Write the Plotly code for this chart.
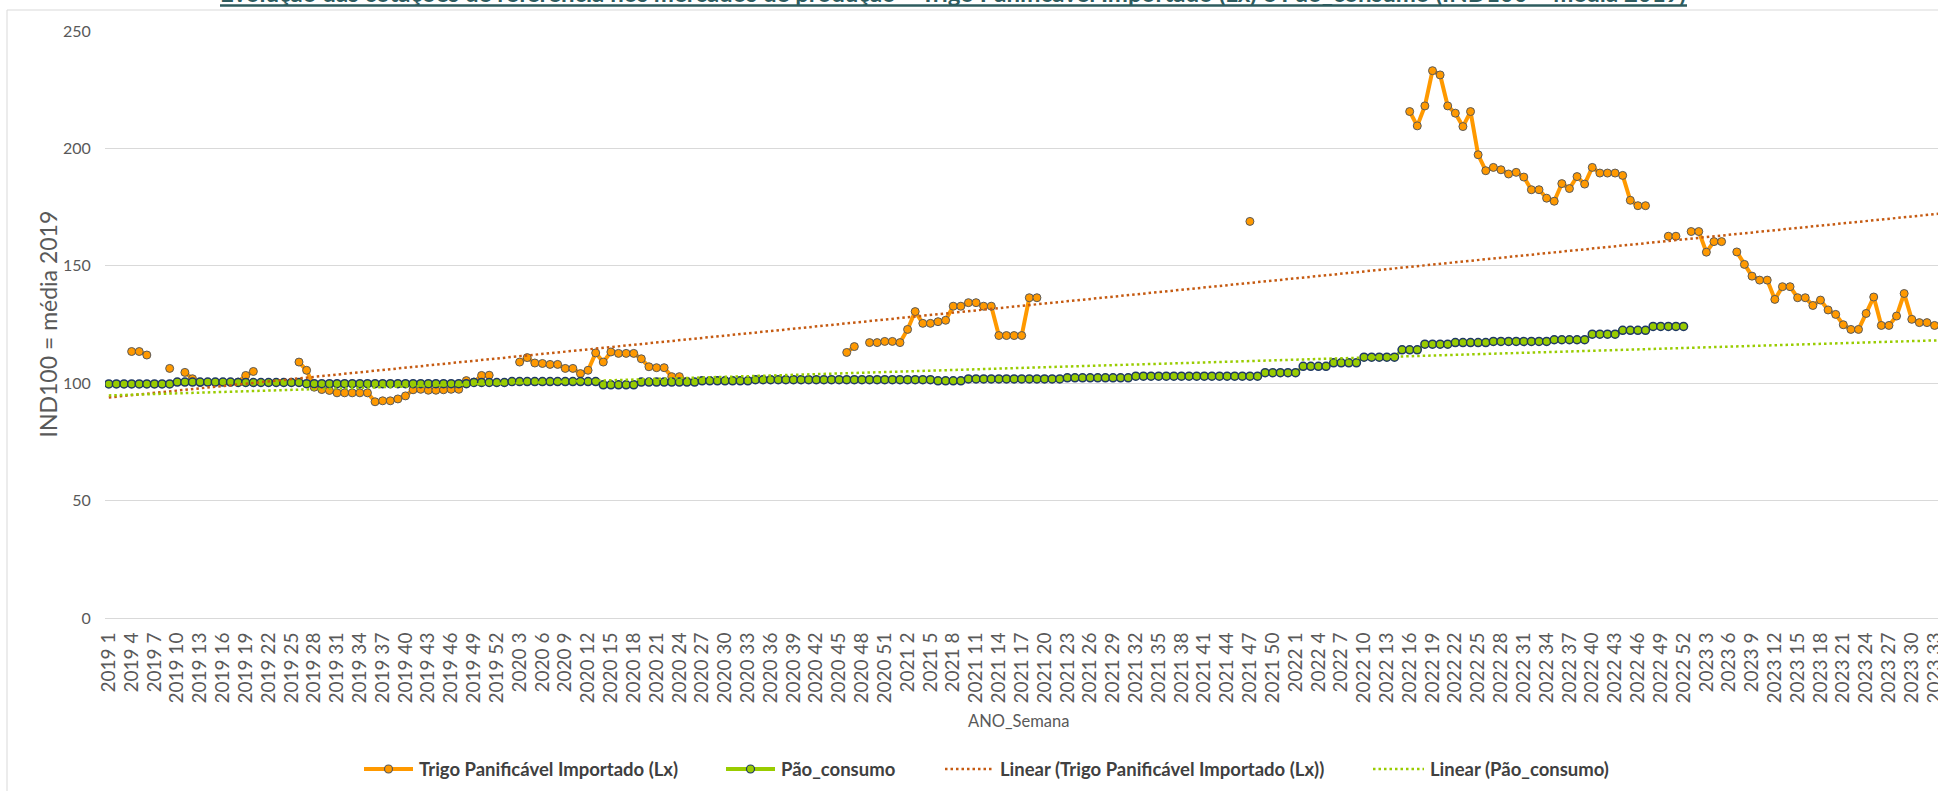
import numpy as np
import plotly.graph_objects as go

# ---------------- data ----------------
years = [2019, 2020, 2021, 2022, 2023]
weeks_in_year = [52, 52, 52, 52, 34]
categories = [f"{y} {w}" for y, n in zip(years, weeks_in_year) for w in range(1, n + 1)]

trigo_2019 = [None, None, None, 113.5, 113.5, 112.0, None, None, 106.3, None,
              104.6, 101.9, 100.3, None, None, None, None, 100.5, 103.3, 105.0,
              None, None, None, None, None, 109.0, 105.5, 98.3, 97.3, 96.9,
              95.9, 95.9, 95.9, 95.9, 95.9, 92.1, 92.5, 92.5, 93.3, 94.6,
              97.2, 97.4, 97.0, 97.0, 97.2, 97.4, 97.4, 101.1, 100.5, 103.3,
              103.4, None]
trigo_2020 = [None, None, 109.0, 110.9, 108.6, 108.4, 108.0, 108.0, 106.3, 106.3,
              104.1, 105.5, 112.9, 109.0, 113.3, 112.7, 112.7, 112.7, 110.4, 107.0,
              106.6, 106.6, 102.8, 102.8, 100.8, None, None, None, None, None,
              None, None, None, None, None, None, None, None, None, None,
              None, None, None, None, None, 113.1, 115.6, None, 117.3, 117.3,
              117.8, 117.8]
trigo_2021 = [117.3, 122.9, 130.5, 125.5, 125.5, 126.2, 126.8, 132.8, 132.8, 134.3,
              134.3, 132.8, 132.8, 120.3, 120.3, 120.3, 120.3, 136.4, 136.4, None,
              None, None, None, None, None, None, None, None, None, None,
              None, None, None, None, None, None, None, None, None, None,
              None, None, None, None, None, None, 168.9, None, None, None,
              None, None]
trigo_2022 = [None, None, None, None, None, None, None, None, None, None,
              None, None, None, None, None, 215.7, 209.6, 218.1, 233.1, 231.3,
              218.1, 215.0, 209.3, 215.7, 197.3, 190.5, 191.9, 190.9, 189.1, 189.8,
              187.8, 182.4, 182.4, 178.8, 177.5, 185.0, 182.9, 188.0, 184.8, 191.9,
              189.5, 189.5, 189.5, 188.5, 177.9, 175.6, 175.6, None, None, 162.6,
              162.6, None]
trigo_2023 = [164.6, 164.6, 155.8, 160.3, 160.3, None, 155.9, 150.6, 145.6, 143.9,
              143.9, 135.7, 141.1, 141.1, 136.4, 136.4, 133.1, 135.4, 131.2, 129.3,
              124.9, 122.9, 122.9, 129.7, 136.7, 124.6, 124.6, 128.6, 138.2, 127.2,
              125.8, 125.8, 124.6, None]

pao_2019 = [99.7, 99.7, 99.7, 99.7, 99.7, 99.7, 99.7, 99.7, 99.7, 100.5,
            100.5, 100.5, 100.5, 100.5, 100.5, 100.5, 100.5, 100.3, 100.3, 100.3,
            100.3, 100.3, 100.3, 100.3, 100.3, 100.3, 99.8, 99.8, 99.8, 99.8,
            99.8, 99.8, 99.8, 99.8, 99.8, 99.8, 99.8, 99.8, 99.8, 99.8,
            99.8, 99.8, 99.8, 99.8, 99.8, 99.8, 99.8, 99.8, 100.3, 100.3,
            100.3, 100.3]
pao_2020 = [100.3, 100.7, 100.7, 100.7, 100.7, 100.7, 100.7, 100.7, 100.7, 100.7,
            100.7, 100.7, 100.7, 99.3, 99.3, 99.3, 99.3, 99.3, 100.5, 100.5,
            100.5, 100.5, 100.5, 100.5, 100.5, 100.5, 101.0, 101.0, 101.0, 101.0,
            101.0, 101.0, 101.0, 101.5, 101.5, 101.5, 101.5, 101.5, 101.5, 101.5,
            101.5, 101.5, 101.5, 101.5, 101.5, 101.5, 101.5, 101.5, 101.5, 101.5,
            101.5, 101.5]
pao_2021 = [101.5, 101.5, 101.5, 101.5, 101.5, 101.0, 101.0, 101.0, 101.0, 101.8,
            101.8, 101.8, 101.8, 101.8, 101.8, 101.8, 101.8, 101.8, 101.8, 101.8,
            101.8, 101.8, 102.3, 102.3, 102.3, 102.3, 102.3, 102.3, 102.3, 102.3,
            102.3, 103.0, 103.0, 103.0, 103.0, 103.0, 103.0, 103.0, 103.0, 103.0,
            103.0, 103.0, 103.0, 103.0, 103.0, 103.0, 103.0, 103.0, 104.5, 104.5,
            104.5, 104.5]
pao_2022 = [104.5, 107.2, 107.2, 107.2, 107.2, 108.7, 108.7, 108.7, 108.7, 111.1,
            111.1, 111.1, 111.1, 111.1, 114.2, 114.2, 114.2, 116.6, 116.6, 116.6,
            116.6, 117.3, 117.3, 117.3, 117.3, 117.3, 117.8, 117.8, 117.8, 117.8,
            117.8, 117.8, 117.8, 117.8, 118.5, 118.5, 118.5, 118.5, 118.5, 120.9,
            120.9, 120.9, 120.9, 122.5, 122.5, 122.5, 122.5, 124.2, 124.2, 124.2,
            124.2, 124.2]
pao_2023 = [None] * 34

trigo = trigo_2019 + trigo_2020 + trigo_2021 + trigo_2022 + trigo_2023
pao = pao_2019 + pao_2020 + pao_2021 + pao_2022 + pao_2023

tick_labels = categories[::3]

name_trigo = "Trigo Panificável Importado (Lx)"
name_pao = "Pão_consumo"
name_lin_trigo = "Linear (Trigo Panificável Importado (Lx))"
name_lin_pao = "Linear (Pão_consumo)"
title_text = ("Evolução das cotações de referência nos mercados de produção – "
              "Trigo Panificável Importado (Lx) e Pão_consumo (IND100 = média 2019)")

# ---------------- linear trends (least squares, like Excel) ----------------
N = len(categories)
idx = np.arange(N)


def linear_trend(vals):
    xs = np.array([i for i, v in enumerate(vals) if v is not None], float)
    ys = np.array([v for v in vals if v is not None], float)
    slope, inter = np.polyfit(xs, ys, 1)
    return (inter + slope * idx).tolist()


trend_trigo = linear_trend(trigo)
trend_pao = linear_trend(pao)

# ---------------- styling ----------------
FONT = "Lato, 'Open Sans', sans-serif"
C_ORANGE = "#FF9900"
C_GREEN = "#99CC00"
C_TREND_OR = "#C55A11"
C_TXT = "#595959"
C_LEG = "#404040"
C_TITLE = "#2E5C5F"

# the chart continues slightly past the right edge of the 1938px window (as in the reference)
W, H = 1946, 791
L, R, T, B = 105, 0, 31, 173
PW, PH = W - L - R, H - T - B


def px(x):
    return (x - L) / PW


def py(y):
    return (H - B - y) / PH


fig = go.Figure()
fig.add_trace(go.Scatter(
    x=categories, y=trigo, mode="lines+markers", name=name_trigo,
    line=dict(color=C_ORANGE, width=4), connectgaps=False,
    marker=dict(size=8, color=C_ORANGE, line=dict(color="#595959", width=1)),
    showlegend=False))
fig.add_trace(go.Scatter(
    x=categories, y=pao, mode="lines+markers", name=name_pao,
    line=dict(color=C_GREEN, width=3), connectgaps=False,
    marker=dict(size=8, color=C_GREEN, line=dict(color="#1F3864", width=1.5)),
    showlegend=False))
fig.add_trace(go.Scatter(
    x=categories, y=trend_trigo, mode="lines", name=name_lin_trigo,
    line=dict(color=C_TREND_OR, width=2.5, dash="2.5px,3px"), showlegend=False))
fig.add_trace(go.Scatter(
    x=categories, y=trend_pao, mode="lines", name=name_lin_pao,
    line=dict(color=C_GREEN, width=2.5, dash="2.5px,3px"), showlegend=False))

shapes = [
    # chart area border
    dict(type="rect", xref="paper", yref="paper", x0=px(7), y0=py(10), x1=px(2200), y1=py(950),
         line=dict(color="#D9D9D9", width=1), fillcolor="rgba(0,0,0,0)", layer="below"),
    # title underline
    dict(type="line", xref="paper", yref="paper", x0=px(220), x1=px(1687), y0=py(5.5), y1=py(5.5),
         line=dict(color=C_TITLE, width=2.5)),
]
annotations = [
    dict(text="<b>" + title_text + "</b>", xref="paper", yref="paper", x=px(953), y=py(9.5),
         xanchor="center", yanchor="bottom", showarrow=False,
         font=dict(family=FONT, size=24, color=C_TITLE)),
    dict(text="IND100 = média 2019", xref="paper", yref="paper", x=px(47), y=py(324.5),
         xanchor="center", yanchor="middle", textangle=-90, showarrow=False,
         font=dict(family=FONT, size=23, color=C_TXT)),
    dict(text="ANO_Semana", xref="paper", yref="paper", x=px(1018), y=py(721),
         xanchor="center", yanchor="middle", showarrow=False,
         font=dict(family=FONT, size=16.5, color=C_TXT)),
]

# manual legend
leg_y = 769
legend_items = [
    (364, 413, C_ORANGE, "solid", 4, "#595959", name_trigo, 417),
    (726, 775, C_GREEN, "solid", 4, "#1F3864", name_pao, 779),
    (945, 994, C_TREND_OR, "2.5px,3px", 2.5, None, name_lin_trigo, 998),
    (1373, 1424, C_GREEN, "2.5px,3px", 2.5, None, name_lin_pao, 1428),
]
for x0, x1, col, dash, w, mline, label, tx in legend_items:
    shapes.append(dict(type="line", xref="paper", yref="paper", x0=px(x0), x1=px(x1),
                       y0=py(leg_y), y1=py(leg_y), line=dict(color=col, width=w, dash=dash)))
    if mline:
        cx = (x0 + x1) / 2
        shapes.append(dict(type="circle", xref="paper", yref="paper",
                           x0=px(cx - 4), x1=px(cx + 4), y0=py(leg_y + 4), y1=py(leg_y - 4),
                           fillcolor=col, line=dict(color=mline, width=1.2)))
    annotations.append(dict(text="<b>" + label + "</b>", xref="paper", yref="paper",
                            x=px(tx), y=py(leg_y), xanchor="left", yanchor="middle",
                            showarrow=False, font=dict(family=FONT, size=18.5, color=C_LEG)))

fig.update_layout(
    width=W, height=H, autosize=False,
    margin=dict(l=L, r=R, t=T, b=B, pad=0),
    paper_bgcolor="white", plot_bgcolor="white",
    showlegend=False, hovermode=False,
    font=dict(family=FONT, color=C_TXT),
    shapes=shapes, annotations=annotations,
    xaxis=dict(type="category", categoryorder="array", categoryarray=categories,
               range=[-0.5, N - 0.5], tickmode="array", tickvals=tick_labels, ticktext=tick_labels,
               tickangle=-90, tickfont=dict(family=FONT, size=19, color=C_TXT),
               showgrid=False, showline=False, zeroline=False,
               ticks="outside", ticklen=6, tickcolor="rgba(0,0,0,0)"),
    yaxis=dict(range=[0, 250], tickvals=[0, 50, 100, 150, 200, 250],
               tickfont=dict(family=FONT, size=16, color=C_TXT),
               showgrid=True, gridcolor="#D9D9D9", gridwidth=1.2,
               zeroline=True, zerolinecolor="#D9D9D9", zerolinewidth=1.2,
               showline=False, ticks="outside", ticklen=10, tickcolor="rgba(0,0,0,0)"),
)

fig.write_html("out.html", config={"displayModeBar": False},
               post_script="document.body.style.margin='0';document.body.style.overflow='hidden';")
